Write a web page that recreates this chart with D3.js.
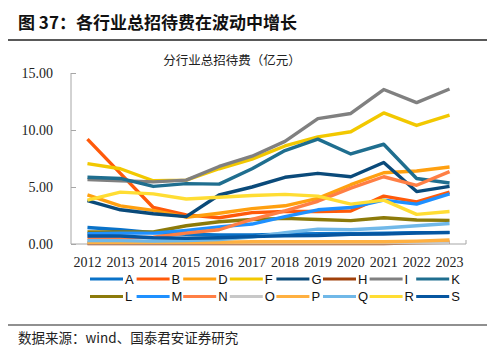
<!DOCTYPE html>
<html>
<head>
<meta charset="utf-8">
<script src="https://cdn.jsdelivr.net/npm/d3@7"></script>
<style>
  body { margin: 0; background: #fff; }
  svg { display: block; }
</style>
</head>
<body>
<div id="chart"></div>
<script>
// data (亿元)
const years = [2012, 2013, 2014, 2015, 2016, 2017, 2018, 2019, 2020, 2021, 2022, 2023];
const yTicks = [0, 5, 10, 15];
const names = ["A", "B", "D", "F", "G", "H", "I", "K", "L", "M", "N", "O", "P", "Q", "R", "S"];
const colors = ["#0a72c8", "#ff5a0a", "#ffa010", "#f2c800", "#0a4a7a", "#a0400a", "#808080", "#1f6e8f",
                "#8c7a0a", "#1e90ff", "#ff7f45", "#c8c8c8", "#ffb040", "#70b8e8", "#ffdd33", "#0656a0"];

const A = [1.45, 1.25, 1.0, 0.85, 0.8, 0.8, 0.85, 0.9, 0.9, 0.95, 1.0, 1.0];
const B = [9.2, 6.2, 3.2, 2.55, 2.3, 2.75, 2.85, 2.85, 2.9, 4.2, 3.7, 4.55];
const D = [4.3, 3.35, 2.95, 2.35, 2.7, 3.1, 3.35, 4.0, 5.2, 6.25, 6.4, 6.75];
const F = [7.05, 6.6, 5.55, 5.6, 6.6, 7.45, 8.6, 9.4, 9.85, 11.5, 10.4, 11.3];
const G = [3.8, 3.0, 2.65, 2.4, 4.3, 5.0, 5.85, 6.2, 5.9, 7.15, 4.6, 5.05];
const H = [0.05, 0.05, 0.05, 0.05, 0.05, 0.05, 0.05, 0.05, 0.05, 0.05, 0.1, 0.15];
const I = [5.65, 5.55, 5.45, 5.6, 6.8, 7.7, 9.0, 11.0, 11.45, 13.55, 12.4, 13.6];
const K = [5.85, 5.75, 5.05, 5.3, 5.25, 6.6, 8.2, 9.2, 7.9, 8.75, 5.75, 5.35];
const L = [1.05, 1.05, 1.05, 1.6, 1.95, 2.15, 2.25, 2.15, 2.05, 2.3, 2.1, 2.07];
const M = [0.9, 0.95, 0.95, 1.2, 1.5, 1.75, 2.4, 3.0, 3.2, 3.85, 3.5, 4.4];
const N = [0.5, 0.5, 0.6, 0.95, 1.25, 2.15, 2.9, 3.75, 4.9, 5.9, 5.15, 6.35];
const O = [0.1, 0.1, 0.1, 0.1, 0.1, 0.1, 0.1, 0.1, 0.1, 0.1, 0.1, 0.1];
const P = [0.15, 0.15, 0.15, 0.15, 0.15, 0.2, 0.2, 0.2, 0.2, 0.2, 0.25, 0.35];
const Q = [0.3, 0.3, 0.25, 0.3, 0.4, 0.6, 1.0, 1.3, 1.25, 1.4, 1.6, 1.8];
const R = [3.85, 4.55, 4.4, 3.95, 4.1, 4.25, 4.35, 4.2, 3.5, 3.85, 2.6, 2.85];
const S = [0.7, 0.7, 0.55, 0.5, 0.55, 0.65, 0.73, 0.75, 0.85, 0.88, 0.96, 1.02];

const values = [A, B, D, F, G, H, I, K, L, M, N, O, P, Q, R, S];
const series = names.map((n, i) => ({ name: n, color: colors[i], values: values[i] }));

const W = 487, H_ = 349;
const svg = d3.select("#chart").append("svg")
    .attr("width", W)
    .attr("height", H_);

const cjk = "'Noto Sans CJK SC', 'Noto Sans', sans-serif";
const serif = "'Liberation Serif', 'DejaVu Serif', serif";

// header
svg.append("text")
    .attr("x", 18).attr("y", 29)
    .style("font-family", cjk)
    .style("font-size", "17px")
    .style("font-weight", "bold")
    .style("fill", "#111")
    .text("图 37：各行业总招待费在波动中增长");

svg.append("line")
    .attr("x1", 8).attr("x2", W).attr("y1", 40).attr("y2", 40)
    .attr("stroke", "#222").attr("stroke-width", 1.5);

svg.append("text")
    .attr("x", 232).attr("y", 65)
    .attr("text-anchor", "middle")
    .style("font-family", cjk)
    .style("font-size", "12.5px")
    .style("fill", "#222")
    .text("分行业总招待费（亿元）");

// plot
const x = d3.scaleBand()
    .domain(years)
    .range([71, 466]);

const y = d3.scaleLinear()
    .domain([0, 15])
    .range([244, 73]);

const yAxis = svg.append("g")
    .attr("transform", "translate(71,0)")
    .call(d3.axisLeft(y).tickValues(yTicks).tickFormat(d3.format(".2f")).tickSize(-5).tickPadding(18));
yAxis.select(".domain").attr("stroke", "#a6a6a6").attr("d", "M0,73V244");
yAxis.selectAll(".tick line").attr("stroke", "#a6a6a6");
yAxis.selectAll("text")
    .style("font-family", serif)
    .style("font-size", "14px")
    .style("fill", "#222");

const xAxis = svg.append("g")
    .attr("transform", "translate(0,244)")
    .call(d3.axisBottom(x).tickSize(0).tickPadding(13));
xAxis.select(".domain").attr("stroke", "#a6a6a6").attr("d", "M71,0H466V-4");
xAxis.selectAll("text")
    .style("font-family", serif)
    .style("font-size", "14px")
    .style("fill", "#222");
// small boundary ticks between years
xAxis.selectAll(".bound")
    .data(years.slice(1))
    .join("line")
    .attr("class", "bound")
    .attr("x1", d => x(d)).attr("x2", d => x(d))
    .attr("y1", 0).attr("y2", -2)
    .attr("stroke", "#bbb");

const line = d3.line()
    .x((d, i) => x(years[i]) + x.bandwidth() / 2)
    .y(d => y(d));

svg.append("g").selectAll("path")
    .data(series)
    .join("path")
    .attr("fill", "none")
    .attr("stroke", d => d.color)
    .attr("stroke-width", 3.4)
    .attr("stroke-linejoin", "round")
    .attr("d", d => line(d.values));

// legend
const leg = svg.append("g").selectAll("g")
    .data(series)
    .join("g")
    .attr("transform", (d, i) => `translate(${90 + (i % 8) * 46.6},${i < 8 ? 279 : 296.5})`);

leg.append("line")
    .attr("x1", 0).attr("x2", 33)
    .attr("stroke", d => d.color)
    .attr("stroke-width", 3.2);

leg.append("text")
    .attr("x", 35).attr("y", 0)
    .attr("dy", "0.36em")
    .style("font-family", "'Liberation Sans', Arial, sans-serif")
    .style("font-size", "13px")
    .style("fill", "#111")
    .text(d => d.name);

// footer
svg.append("line")
    .attr("x1", 8).attr("x2", W).attr("y1", 325).attr("y2", 325)
    .attr("stroke", "#222").attr("stroke-width", 1.2);

svg.append("text")
    .attr("x", 18).attr("y", 343)
    .style("font-family", cjk)
    .style("font-size", "13.5px")
    .style("fill", "#222")
    .text("数据来源：wind、国泰君安证券研究");
</script>
</body>
</html>
